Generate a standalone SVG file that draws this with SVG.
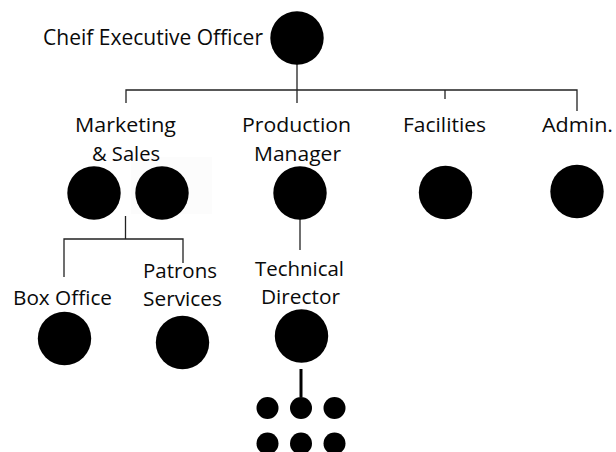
<svg xmlns="http://www.w3.org/2000/svg" width="616" height="452" viewBox="0 0 616 452">
  <style>
    .lbl { font-family: "Open Sans", "Liberation Sans", sans-serif; font-size: 20px; fill: #0a0a0a; }
    .ceo { font-size: 21px; }
    .wire { stroke: #222; stroke-width: 1.3; fill: none; }
    .thick { stroke: #000; stroke-width: 3; fill: none; }
    .dot { fill: #000; }
  </style>
  <rect width="616" height="452" fill="#fff"/>
  <rect x="131" y="157" width="81" height="57" fill="#fcfcfc"/>

  <g id="connectors">
    <path class="wire" d="M297 64 V90 M126 103 V90 H577 V111 M297 90 V103 M445 90 V99"/>
    <path class="wire" d="M125.5 216 V239 M64 277 V239 H183 V263"/>
    <path class="wire" d="M300 219 V250"/>
    <path class="thick" d="M301 369 V397"/>
  </g>

  <g id="ceo">
    <text class="lbl ceo" x="43" y="45" textLength="220" lengthAdjust="spacingAndGlyphs">Cheif Executive Officer</text>
    <circle class="dot" cx="297" cy="38" r="26.7"/>
  </g>

  <g id="marketing">
    <text class="lbl" x="75" y="132" textLength="101" lengthAdjust="spacingAndGlyphs">Marketing</text>
    <text class="lbl" x="92" y="161" textLength="68" lengthAdjust="spacingAndGlyphs">&amp; Sales</text>
    <circle class="dot" cx="94" cy="193" r="26.7"/>
    <circle class="dot" cx="162" cy="193" r="26.7"/>
  </g>

  <g id="production">
    <text class="lbl" x="242" y="132" textLength="109" lengthAdjust="spacingAndGlyphs">Production</text>
    <text class="lbl" x="254" y="161" textLength="87" lengthAdjust="spacingAndGlyphs">Manager</text>
    <circle class="dot" cx="300" cy="193" r="26.7"/>
  </g>

  <g id="facilities">
    <text class="lbl" x="403" y="132" textLength="83" lengthAdjust="spacingAndGlyphs">Facilities</text>
    <circle class="dot" cx="445.5" cy="192.5" r="26.7"/>
  </g>

  <g id="admin">
    <text class="lbl" x="542" y="132" textLength="71" lengthAdjust="spacingAndGlyphs">Admin.</text>
    <circle class="dot" cx="577" cy="191.5" r="26.7"/>
  </g>

  <g id="box-office">
    <text class="lbl" x="13" y="305" textLength="99" lengthAdjust="spacingAndGlyphs">Box Office</text>
    <circle class="dot" cx="64.5" cy="338.5" r="26.7"/>
  </g>

  <g id="patrons">
    <text class="lbl" x="143" y="277.5" textLength="74" lengthAdjust="spacingAndGlyphs">Patrons</text>
    <text class="lbl" x="143" y="306" textLength="79" lengthAdjust="spacingAndGlyphs">Services</text>
    <circle class="dot" cx="182.5" cy="342.5" r="26.7"/>
  </g>

  <g id="technical">
    <text class="lbl" x="255" y="275.5" textLength="89" lengthAdjust="spacingAndGlyphs">Technical</text>
    <text class="lbl" x="261" y="304" textLength="79" lengthAdjust="spacingAndGlyphs">Director</text>
    <circle class="dot" cx="301.5" cy="336" r="26.7"/>
  </g>

  <g id="crew">
    <circle class="dot" cx="267.5" cy="408" r="11"/>
    <circle class="dot" cx="301" cy="408" r="11"/>
    <circle class="dot" cx="334.5" cy="408" r="11"/>
    <circle class="dot" cx="267.5" cy="443.5" r="11"/>
    <circle class="dot" cx="301" cy="443.5" r="11"/>
    <circle class="dot" cx="334.5" cy="443.5" r="11"/>
  </g>
</svg>
